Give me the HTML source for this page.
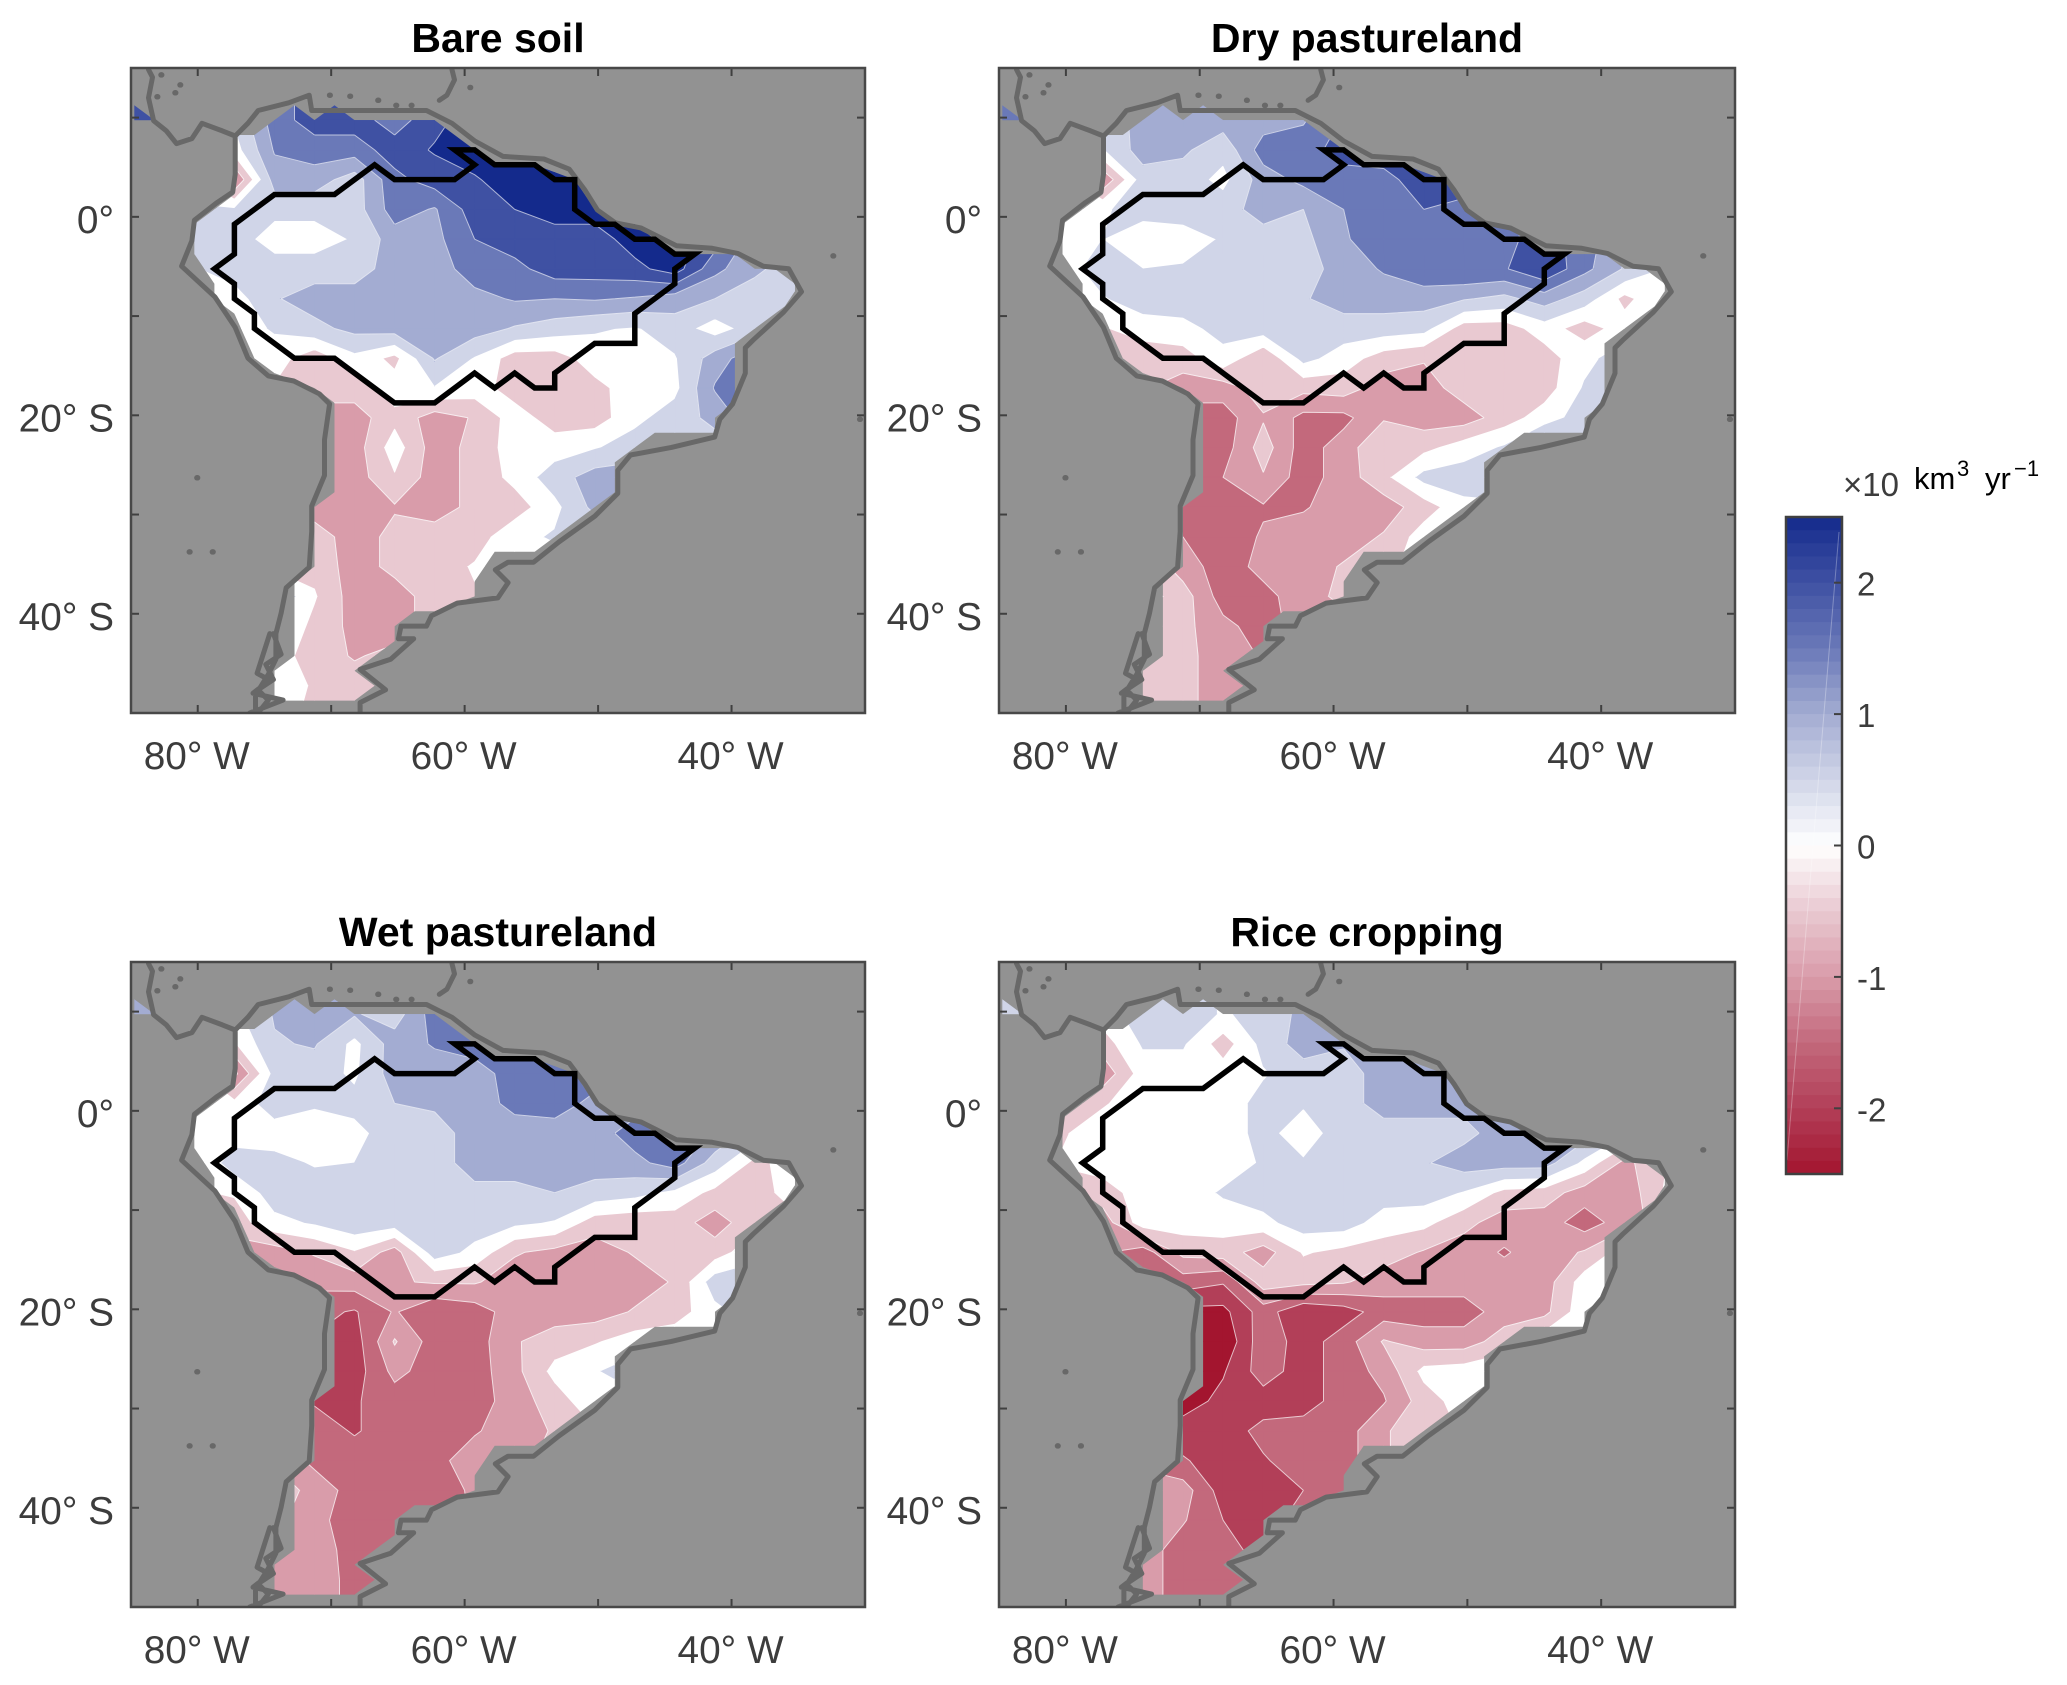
<!DOCTYPE html>
<html lang="en">
<head>
<meta charset="utf-8">
<title>South America land use contour maps</title>
<style>
html,body{margin:0;padding:0;background:#fff}
svg{display:block;font-family:"Liberation Sans",Arial,sans-serif}
</style>
</head>
<body>
<svg id="figure" width="2067" height="1685" viewBox="0 0 2067 1685" xmlns="http://www.w3.org/2000/svg"></svg>
<script>
const gridLons = [-86.25,-83.25,-80.25,-77.25,-74.25,-71.25,-68.25,-65.25,-62.25,-59.25,-56.25,-53.25,-50.25,-47.25,-44.25,-41.25,-38.25,-35.25,-32.25];
const gridLats = [12.75,9.75,6.75,3.75,0.75,-2.25,-5.25,-8.25,-11.25,-14.25,-17.25,-20.25,-23.25,-26.25,-29.25,-32.25,-35.25,-38.25,-41.25,-44.25,-47.25,-50.25];

const bareSoilValues = [
[2,2,.5,.5,1.5,2,2,1.5,2,2.5,2.5,2.5,2.5,2.5,2.5,2,1,.5,.5],
[2,2,.3,.3,1.5,2,2,1.5,2.1,2.5,2.5,2.5,2.5,2.5,2.5,2,1,.5,.5],
[.5,.3,0,0,1.3,1.5,1.5,2,2.3,2.5,2.5,2.5,2.5,2.5,2.5,2,1,.5,.5],
[0,0,0,-1.3,1,1,.5,1.6,2,2.2,2.5,2.5,2.5,2.5,2.5,2,1,.5,.5],
[.3,.3,.3,.3,.4,.4,.5,1.5,1.2,2,2.25,2.5,2.5,2.5,2.5,2,1,.5,.5],
[.5,.5,.5,.5,0,0,.3,1,1.1,1.75,2,2,2,2.5,2.5,2,1,.5,.5],
[.2,.2,.2,.5,.5,.5,.5,1,1,1.5,1.6,2,2,2.1,2.5,1.4,.85,.5,.5],
[0,0,0,0,.7,1,1,1,1,1.1,1.3,1.25,1.3,1.2,1,.75,.5,.7,.7],
[0,0,0,0,.3,.6,.9,1,1,1,.7,.5,.3,.2,.5,0,.5,.5,.5],
[0,0,0,0,0,-.6,.1,-.4,.8,.2,-.5,-.5,0,0,.2,1,1.6,.5,.5],
[0,0,0,-.3,-.3,-.5,-.5,0,.2,0,-.5,-.5,-.4,0,.1,1.3,1.7,.5,.5],
[-1,-1,-1,-1,-1,-1,-1,-.4,-1,-.7,0,-.5,-.5,.1,.5,.9,1.6,.5,.5],
[-1,-1,-1,-1,-1,-1,-1,0,-1,-.6,0,0,.2,.5,.5,.5,.5,.5,.5],
[-1,-1,-1,-1,-1,-1,-1,-.3,-1,-.6,-.1,.5,1,1,1,1,1,1,1],
[-1,-1,-1,-1,-1,-1,-1,-.8,-1,-.6,-.5,.1,.9,.9,.9,.9,.9,.9,.9],
[-.5,-.5,-.5,-.5,-.5,-.5,-1,-.6,-.5,-.5,.1,.3,.3,.3,.3,.3,.3,.3,.3],
[-.4,-.4,-.4,-.4,-.4,-.4,-1,-.6,-.5,-.2,0,0,0,0,0,0,0,0,0],
[.7,.7,.7,.7,.7,-.2,-1,-1,-.5,-.3,0,0,0,0,0,0,0,0,0],
[.3,.3,.3,.3,.3,-.4,-.9,-1,-.5,-.5,0,0,0,0,0,0,0,0,0],
[0,0,0,0,0,-.5,-.8,-.6,-.5,-.5,0,0,0,0,0,0,0,0,0],
[0,0,0,0,0,-.3,-.5,-.5,-.5,-.5,0,0,0,0,0,0,0,0,0],
[0,0,0,0,0,-.4,-.5,-.5,-.5,-.5,0,0,0,0,0,0,0,0,0]
];

const dryPasturelandValues = [
[1.5,1.5,.5,.3,1,1,1,1,1.2,1.8,2,2,2,2,2,1.5,1,.5,.5],
[1.5,1.5,.3,.3,1,1.1,1,1,1.2,1.8,2,2,2,2,2,1.5,1,.5,.5],
[.5,.3,.2,.2,1,.85,.4,1.5,1.5,2,2,2,2,2,2,1.5,1,.5,.5],
[0,0,0,-1.2,.5,.5,.1,1,1.4,1.5,1.6,2,2,2,2,1.5,1,.5,.5],
[.1,.1,.1,.2,.4,.5,.5,1,.75,1.25,1.5,1.75,1.6,1.6,2,1.5,1,.5,.5],
[0,0,0,.25,0,0,.3,.5,.6,1.2,1.5,1.5,1.5,1.6,2,1.5,.8,.4,.4],
[0,0,0,.5,.25,.3,.5,.5,.5,1,1.3,1.6,1.75,1.7,2.2,1.4,.7,.2,.2],
[0,0,0,.2,.5,.5,.5,.5,.7,1,1,1,.8,.6,1,.5,-.4,.2,.2],
[-.3,-.3,-.3,-.3,0,.1,.4,.5,.5,.5,.5,.4,-.5,-.5,0,-.5,0,.3,.3],
[-.3,-.3,-.3,-.3,-.6,-.5,.1,-.7,.4,0,-.5,-.7,-.5,-.5,-.5,.1,.5,.5,.5],
[-.7,-.7,-.7,-.7,-.7,-1,-1,-.5,-.6,-.5,-1,-1,-.5,-.5,-.5,.3,1,1,1],
[-1.5,-1.5,-1.5,-1.5,-1.5,-1.5,-1.5,-.8,-1.4,-1.4,-.8,-1,-1,-.5,0,.5,.5,.5,.5],
[-1.3,-1.3,-1.3,-1.3,-1.3,-1.3,-1.5,-.5,-1.5,-1,-.3,-.4,0,.3,1,.5,.5,.5,.5],
[-1.3,-1.3,-1.3,-1.3,-1.3,-1.3,-1.25,-.8,-1.5,-1,-.4,.4,.5,.7,.7,.7,.7,.7,.7],
[-1.5,-1.5,-1.5,-1.5,-1.5,-1.5,-1.5,-1.3,-1.3,-1,-1,-.5,.1,.1,.1,.1,.1,.1,.1],
[-.8,-.8,-.8,-.8,-.8,-1.25,-1.5,-1.2,-1,-1,-.7,0,0,0,0,0,0,0,0],
[-.3,-.3,-.3,-.3,-.3,-1,-1.5,-1.1,-1,-.7,-.4,0,0,0,0,0,0,0,0],
[0,0,0,0,0,-.5,-1.5,-1.4,-1,-.6,-.4,0,0,0,0,0,0,0,0],
[-.3,-.3,-.3,-.3,-.3,-.6,-1.1,-1.5,-1,-1,-.5,0,0,0,0,0,0,0,0],
[-.5,-.5,-.5,-.5,-.5,-.6,-1,-1.3,-1,-1,-.5,0,0,0,0,0,0,0,0],
[-.5,-.5,-.5,-.5,-.5,-.6,-1,-1,-1,-1,-.5,0,0,0,0,0,0,0,0],
[-.5,-.5,-.5,-.5,-.5,-.6,-1,-1,-1,-1,-.5,0,0,0,0,0,0,0,0]
];

const wetPasturelandValues = [
[1,1,.3,.1,.8,1,.8,.5,1.5,1.5,1.5,1.5,1.5,1.5,1.5,1,.5,.5,.5],
[1,1,.2,.1,.8,1,.8,.5,1.5,1.5,1.5,1.5,1.5,1.5,1.5,1,.5,.5,.5],
[.3,.1,0,-.3,.7,.8,.1,1,1.3,1.5,1.5,1.5,1.5,1.5,1.5,1,.5,.5,.5],
[0,0,0,-1.4,.4,.5,.15,1,1,1,1.5,1.6,1.5,1.5,1.5,1,.5,.5,.5],
[-.3,-.3,-.3,-.1,.5,.3,.4,.75,.85,1,1.4,1.5,1.1,1,1.2,1,.5,.5,.5],
[-.1,-.1,-.1,0,0,0,.1,.5,.5,1,1,1,1,1.5,1.5,1.2,.5,.3,.3],
[-.3,-.3,-.3,.5,.4,.2,.25,.5,.5,1,1,1,1,1.1,1.5,.5,-.4,0,0],
[-.3,-.3,-.3,-.2,.5,.5,.5,.5,.5,.6,.6,.75,.55,.4,.1,-.4,-.5,0,0],
[-.5,-.5,-.5,-.5,.1,.3,.6,.5,.5,.5,.35,.2,-.5,-.6,-.5,-1,-.4,-.4,-.4],
[-1,-1,-1,-1,-1,-.7,-.3,-1,.5,.1,-.7,-.9,-1,-.7,-.7,-.5,.1,.1,.1],
[-1.1,-1.1,-1.1,-1.1,-1.1,-1.1,-1,-.8,-.7,-.7,-1,-1,-1,-1,-.7,.5,.5,.5,.5],
[-1.6,-1.6,-1.6,-1.6,-1.6,-1.6,-1.8,-1.2,-1.7,-1.5,-1,-1,-1,-.7,-.5,.1,.5,.5,.5],
[-1.8,-1.8,-1.8,-1.8,-1.8,-1.8,-2,-.7,-1.5,-1.5,-.8,-.5,-.3,0,.1,.1,.1,.1,.1],
[-2,-2,-2,-2,-2,-2,-2,-1.1,-1.5,-1.5,-.9,-.1,.2,.5,.5,.5,.5,.5,.5],
[-1.5,-1.5,-1.5,-1.5,-1.5,-1.8,-1.8,-1.5,-1.5,-1.5,-1,-.5,.1,.1,.1,.1,.1,.1,.1],
[-1.5,-1.5,-1.5,-1.5,-1.5,-1.5,-1.8,-1.5,-1.5,-1.3,-1,-.7,-.3,0,0,0,0,0,0],
[-.8,-.8,-.8,-.8,-.8,-1.4,-1.5,-1.5,-1.4,-1,-1,-.5,-.3,0,0,0,0,0,0],
[-.5,-.5,-.5,-.5,-.5,-.9,-1.5,-1.5,-1.4,-1.2,-1,-.7,0,0,0,0,0,0,0],
[-.6,-.6,-.6,-.6,-.6,-1.1,-1.5,-1.5,-1.5,-1.2,-1,0,0,0,0,0,0,0,0],
[-1,-1,-1,-1,-1,-1,-1.45,-1.5,-1.5,-1,-1,0,0,0,0,0,0,0,0],
[-1,-1,-1,-1,-1,-1,-1.4,-1.5,-1.5,-1,-1,0,0,0,0,0,0,0,0],
[-1,-1,-1,-1,-1,-1,-1.4,-1.5,-1.5,-1,-1,0,0,0,0,0,0,0,0]
];

const riceCroppingValues = [
[.5,.5,.2,0,.5,.5,.2,.4,.9,1,1,1,1,1,1,.5,.3,.3,.3],
[.5,.5,.2,0,.5,.5,.2,.4,.9,1,1,1,1,1,1,.5,.3,.3,.3],
[.3,0,0,-.5,.3,.3,-.5,.4,1,.8,1,1,1,1,1,.5,.3,.3,.3],
[0,0,0,-1.1,0,0,0,.2,.5,.5,1,1,1,1,1,.5,.3,.3,.3],
[-.4,-.4,-.4,-.3,0,0,0,.4,.3,.5,1,1,.9,1,1,.5,.3,.3,.3],
[-.3,-.3,-.3,0,0,0,0,.4,0,.5,.5,.5,.6,1,1,1,.3,0,0],
[-.2,-.2,-.2,0,0,0,0,.3,.3,.5,.5,.7,1,1,1,.1,-.9,-.3,-.3],
[-.5,-.5,-.5,-.5,0,0,.3,.5,.5,.5,.5,.5,.2,-.4,-.5,-1,-1.1,-.2,-.2],
[-1,-1,-1,-1,0,0,0,.1,.5,.5,0,-.1,-.6,-1,-1,-1.5,-1,-.5,-.5],
[-1.2,-1.2,-1.2,-1.2,-1.5,-.6,-.5,-1,-.2,-.4,-.5,-.8,-1,-1.3,-1,-.7,0,0,0],
[-1.5,-1.5,-1.5,-1.5,-1.5,-1.5,-1.7,-.5,-.6,-.7,-1,-1,-1,-1,-1,0,.1,.1,.1],
[-2,-2,-2,-2,-2,-2.4,-2.4,-1.5,-2.2,-2,-1.5,-1.5,-1.5,-1,-.9,.1,.1,.1,.1],
[-2.2,-2.2,-2.2,-2.2,-2.2,-2.5,-2.7,-1.4,-2,-1.5,-.7,-1,-1,-.5,.1,.1,.1,.1,.1],
[-2.3,-2.3,-2.3,-2.3,-2.3,-2.6,-2.3,-1.5,-2,-1.5,-1.1,-.1,0,.1,.1,.1,.1,.1,.1],
[-2.5,-2.5,-2.5,-2.5,-2.5,-2.5,-2.1,-2,-2,-1.5,-1.3,-.5,0,0,0,0,0,0,0],
[-2,-2,-2,-2,-2,-2,-2,-1.6,-1.5,-1.5,-.8,-.5,-.2,0,0,0,0,0,0],
[-1.5,-1.5,-1.5,-1.5,-1.5,-1.7,-2,-1.8,-1.5,-1.5,-.8,-.5,0,0,0,0,0,0,0],
[-.7,-.7,-.7,-.7,-.7,-1,-2,-2,-1.75,-1.5,-1,0,0,0,0,0,0,0,0],
[-.7,-.7,-.7,-.7,-.7,-1.2,-1.75,-2,-1.5,-1.5,-1,0,0,0,0,0,0,0,0],
[-1,-1,-1,-1,-1,-1.5,-1.6,-1.9,-1.5,-1.5,-1,0,0,0,0,0,0,0,0],
[-1,-1,-1,-1,-1,-1.5,-1.5,-1.5,-1.5,-1.5,-1,0,0,0,0,0,0,0,0],
[-1,-1,-1,-1,-1,-1.5,-1.5,-1.5,-1.5,-1.5,-1,0,0,0,0,0,0,0,0]
];

const panelTitles = ["Bare soil","Dry pastureland","Wet pastureland","Rice cropping"];
const panelSlugs = ["bare-soil","dry-pastureland","wet-pastureland","rice-cropping"];
const panelValues = [bareSoilValues,dryPasturelandValues,wetPasturelandValues,riceCroppingValues];

const contourLevels = [-2.25,-1.75,-1.25,-.75,-.25,.25,.75,1.25,1.75,2.25];
const bandColors = ["#a3152f","#b23f58","#c3697c","#d99caa","#e9c9d1","#ffffff","#d0d5e8","#a3acd2","#6a79b8","#3f51a3","#142a8c"];
const colormapValues = [-2.5,-2,-1.5,-1,-.5,0,.5,1,1.5,2,2.5];
const colormapColors = ["#a3152f","#b23f58","#c3697c","#d99caa","#e9c9d1","#ffffff","#d0d5e8","#a3acd2","#6a79b8","#3f51a3","#142a8c"];

const landMask = [[-77.25,8.25],[-75.75,8.25],[-72.75,11.25],[-71.25,9.75],[-69.75,11.25],[-68.25,9.75],[-62.25,9.75],[-59.25,6.75],[-57.75,5.25],[-54.75,5.25],[-51.75,3.75],[-50.25,.75],[-48.75,-.75],[-47.25,-.75],[-45.75,-2.25],[-44.25,-3.75],[-39.75,-3.75],[-38.25,-5.25],[-36.75,-5.25],[-35.25,-6.75],[-35.25,-7.5],[-36,-9],[-39.75,-12.75],[-39.75,-18.75],[-41.25,-20.25],[-41.25,-21.75],[-45.75,-21.75],[-48.75,-24.75],[-48.75,-27.75],[-51.75,-30.75],[-54.75,-33.75],[-57.75,-33.75],[-59.25,-36.75],[-59.25,-38.25],[-62.25,-39.75],[-63.75,-39.75],[-65.25,-41.25],[-65.25,-42.75],[-68.25,-45.75],[-66.75,-47.25],[-68.25,-48.75],[-74.25,-48.75],[-74.25,-45.75],[-72.75,-44.25],[-72.75,-36.75],[-71.25,-35.25],[-71.25,-29.25],[-69.75,-27.75],[-69.75,-18.75],[-71.25,-17.25],[-74.25,-15.75],[-75.75,-14.25],[-77.25,-9.75],[-78.75,-8.25],[-78.75,-6.75],[-80.25,-3.75],[-80.25,-.75],[-78.75,.75],[-77.25,2.25]];
const centralAmericaMask = [[-84.75,11.25],[-83.25,9.75],[-84.75,9.75]];

const basinOutline = [[-60.75,6.75],[-59.25,6.75],[-57.75,5.25],[-54.75,5.25],[-53.25,3.75],[-51.75,3.75],[-51.75,.75],[-50.25,-.75],[-48.75,-.75],[-47.25,-2.25],[-45.75,-2.25],[-44.25,-3.75],[-42.75,-3.75],[-44.25,-5.25],[-44.25,-6.75],[-47.25,-9.75],[-47.25,-12.75],[-50.25,-12.75],[-53.25,-15.75],[-53.25,-17.25],[-54.75,-17.25],[-56.25,-15.75],[-57.75,-17.25],[-59.25,-15.75],[-62.25,-18.75],[-65.25,-18.75],[-69.75,-14.25],[-72.75,-14.25],[-75.75,-11.25],[-75.75,-9.75],[-77.25,-8.25],[-77.25,-6.75],[-78.75,-5.25],[-77.25,-3.75],[-77.25,-.75],[-74.25,2.25],[-69.75,2.25],[-66.75,5.25],[-65.25,3.75],[-60.75,3.75],[-59.25,5.25],[-60.75,6.75]];

const coastMain = [[-83.69,14.85],[-83.39,14.06],[-83.69,12],[-83.31,9.69],[-82.35,8.66],[-81.59,7.38],[-80.44,7.89],[-79.68,9.43],[-78.15,8.66],[-77.19,8.15],[-76.24,9.43],[-75.47,10.72],[-73.18,11.49],[-71.65,12.26],[-71.46,10.72],[-68.21,10.72],[-65.53,10.72],[-62.86,10.72],[-60.95,9.43],[-59.23,7.63],[-57.12,6.09],[-54.06,5.83],[-52.16,4.8],[-51.01,2.75],[-50.05,.69],[-48.71,-.6],[-46.8,-1.11],[-44.13,-2.91],[-41.45,-3.17],[-39.54,-3.68],[-37.63,-4.97],[-35.72,-5.23],[-34.76,-7.54],[-36.1,-9.6],[-38.39,-12.43],[-38.97,-13.2],[-38.97,-15.77],[-39.92,-18.86],[-40.88,-20.4],[-41.26,-22.2],[-44.51,-23.23],[-47.57,-24],[-48.52,-25.54],[-48.52,-27.86],[-50.25,-30.17],[-52.92,-32.75],[-54.83,-34.8],[-56.74,-34.8],[-57.7,-35.57],[-56.74,-36.86],[-57.51,-38.4],[-60.56,-38.92],[-62.48,-40.2],[-62.86,-41.24],[-64.77,-41.24],[-64.96,-42.52],[-63.82,-42.52],[-65.54,-44.58],[-67.83,-45.61],[-65.92,-47.66],[-67.83,-48.95],[-67.83,-50.1]];
const coastWest = [[-75.67,-50.1],[-75.67,-48.2],[-74.71,-46.12],[-74.14,-44.58],[-74.14,-42],[-73.75,-39.95],[-73.37,-37.38],[-71.65,-35.32],[-71.46,-31.72],[-71.46,-29.15],[-70.5,-26.06],[-70.5,-22.46],[-70.12,-18.86],[-70.89,-17.83],[-72.8,-16.54],[-74.71,-16.03],[-76.24,-14.23],[-77.19,-11.14],[-78.72,-8.06],[-81.21,-4.97],[-80.44,-2.4],[-80.25,-.34],[-78.53,1.46],[-77.38,2.49],[-77.19,4.29],[-77.19,8.15]];
const coastChile = [[-74.33,-42],[-73.75,-44.08],[-74.9,-45.1],[-74.33,-46.63],[-75.48,-47.66],[-74.71,-48.7],[-75.48,-50]];
const coastChileOuter = [[-74.6,-42],[-75.55,-46],[-74.6,-46.7],[-75.86,-48],[-73.6,-48.7],[-76.1,-50]];
const coastCaribbean = [[-60.95,14.83],[-60.76,13.8],[-61.33,12.26],[-61.9,11.75]];
const coastIslands = [[-82.75,14.3],[-81.33,13.3],[-81.7,12.5],[-83.05,12.1],[-70.12,12.26],[-68.6,12.16],[-66.5,11.75],[-65.15,11.23],[-64,11.23],[-59.6,13.03],[-80.06,-26.3],[-80.63,-33.77],[-78.9,-33.77],[-32.4,-3.94],[-30.4,-20.4]];

const xTickLons = [-80,-70,-60,-50,-40];
const yTickLats = [10,0,-10,-20,-30,-40];
const xLabelLons = [-80,-60,-40];
const xLabelTexts = ["80° W","60° W","40° W"];
const yLabelLats = [0,-20,-40];
const yLabelTexts = ["0°","20° S","40° S"];
const colorbarTicks = [2,1,0,-1,-2];
const colorbarLabels = ["2","1","0","-1","-2"];

const SVGNS = "http://www.w3.org/2000/svg";
const fig = document.getElementById("figure");
const lonMin = -85, lonMax = -30, latMax = 15, latMin = -50;
const frames = [
  {left:131,top:68,right:865,bottom:713},
  {left:999,top:68,right:1735,bottom:713},
  {left:131,top:962,right:865,bottom:1607},
  {left:999,top:962,right:1735,bottom:1607}
];
function make(tag, attrs, parent){
  const el = document.createElementNS(SVGNS, tag);
  for (const k in attrs) el.setAttribute(k, attrs[k]);
  (parent || fig).appendChild(el);
  return el;
}
function xAxis(f, lon){ return f.left + (lon - lonMin) / (lonMax - lonMin) * (f.right - f.left); }
function yAxis(f, lat){ return f.top + (latMax - lat) / (latMax - latMin) * (f.bottom - f.top); }
function fmt(n){ return n.toFixed(1); }
function pathOf(f, pts, close){
  let d = "";
  pts.forEach((p, i) => { d += (i ? "L" : "M") + fmt(xAxis(f, p[0])) + " " + fmt(yAxis(f, p[1])); });
  return d + (close ? "Z" : "");
}
function clipPolygon(poly, level, keepAbove){
  const out = [];
  for (let i = 0; i < poly.length; i++){
    const a = poly[i], b = poly[(i + 1) % poly.length];
    const ain = keepAbove ? a[2] >= level : a[2] <= level;
    const bin = keepAbove ? b[2] >= level : b[2] <= level;
    if (ain) out.push(a);
    if (ain !== bin){
      const t = (level - a[2]) / (b[2] - a[2]);
      out.push([a[0] + t * (b[0] - a[0]), a[1] + t * (b[1] - a[1]), level]);
    }
  }
  return out;
}
function cellCorners(values, r, c){
  return [
    [gridLons[c], gridLats[r], values[r][c]],
    [gridLons[c + 1], gridLats[r], values[r][c + 1]],
    [gridLons[c + 1], gridLats[r + 1], values[r + 1][c + 1]],
    [gridLons[c], gridLats[r + 1], values[r + 1][c]]
  ];
}
function bandPath(f, values, band){
  let d = "";
  const lo = band === 0 ? -Infinity : contourLevels[band - 1];
  const hi = band === contourLevels.length ? Infinity : contourLevels[band];
  for (let r = 0; r < gridLats.length - 1; r++){
    for (let c = 0; c < gridLons.length - 1; c++){
      let poly = cellCorners(values, r, c);
      if (lo !== -Infinity) poly = clipPolygon(poly, lo, true);
      if (poly.length && hi !== Infinity) poly = clipPolygon(poly, hi, false);
      if (poly.length > 2) d += pathOf(f, poly, true);
    }
  }
  return d;
}
function contourPath(f, values, level){
  let d = "";
  for (let r = 0; r < gridLats.length - 1; r++){
    for (let c = 0; c < gridLons.length - 1; c++){
      const q = cellCorners(values, r, c);
      const hits = [];
      for (let i = 0; i < 4; i++){
        const a = q[i], b = q[(i + 1) % 4];
        if ((a[2] < level) !== (b[2] < level)){
          const t = (level - a[2]) / (b[2] - a[2]);
          hits.push([a[0] + t * (b[0] - a[0]), a[1] + t * (b[1] - a[1])]);
        }
      }
      for (let i = 0; i + 1 < hits.length; i += 2) d += pathOf(f, [hits[i], hits[i + 1]], false);
    }
  }
  return d;
}

panelTitles.forEach((title, p) => {
  const f = frames[p];
  const values = panelValues[p];
  const slug = panelSlugs[p];
  const w = f.right - f.left, h = f.bottom - f.top;
  const group = make("g", {});
  
  

  const defs = make("defs", {}, group);
  const frameClip = make("clipPath", {id: "frame-clip-" + p}, defs);
  make("rect", {x: f.left, y: f.top, width: w, height: h}, frameClip);
  const landClip = make("clipPath", {id: "land-clip-" + p}, defs);
  make("path", {d: pathOf(f, landMask, true)}, landClip);
  make("path", {d: pathOf(f, centralAmericaMask, true)}, landClip);

  const ocean = make("rect", {x: f.left, y: f.top, width: w, height: h, fill: "#929292"}, group);
  
  

  const field = make("g", {"clip-path": "url(#land-clip-" + p + ")"}, group);
  
  
  bandColors.forEach((color, band) => {
    const d = bandPath(f, values, band);
    if (!d) return;
    const bandEl = make("path", {d: d, fill: color, stroke: color, "stroke-width": 0.8}, field);
    
    
  });
  contourLevels.forEach((level) => {
    if (Math.abs(level) < 0.5) return;
    const d = contourPath(f, values, level);
    if (!d) return;
    const lineEl = make("path", {d: d, fill: "none", stroke: "#fff", "stroke-opacity": 0.65, "stroke-width": 1}, field);
    
    
  });

  const coast = make("g", {"clip-path": "url(#frame-clip-" + p + ")", fill: "none", stroke: "#686868", "stroke-width": 5, "stroke-linejoin": "round", "stroke-linecap": "round"}, group);
  
  
  make("path", {d: pathOf(f, coastMain) + pathOf(f, coastWest) + pathOf(f, coastChile) + pathOf(f, coastChileOuter) + pathOf(f, coastCaribbean)}, coast);
  coastIslands.forEach((pt) => {
    make("path", {d: pathOf(f, [pt, [pt[0] + 0.05, pt[1]]]), "stroke-width": 5.5}, coast);
  });

  const basin = make("path", {d: pathOf(f, basinOutline, true), fill: "none", stroke: "#000", "stroke-width": 5.5, "stroke-linejoin": "miter"}, group);
  
  

  const ticks = make("g", {stroke: "#404040", "stroke-width": 2, fill: "none"}, group);
  
  
  xTickLons.forEach((lon) => {
    const x = xAxis(f, lon);
    make("line", {x1: x, x2: x, y1: f.bottom, y2: f.bottom - 8}, ticks);
    make("line", {x1: x, x2: x, y1: f.top, y2: f.top + 8}, ticks);
  });
  yTickLats.forEach((lat) => {
    const y = yAxis(f, lat);
    make("line", {x1: f.left, x2: f.left + 8, y1: y, y2: y}, ticks);
    make("line", {x1: f.right, x2: f.right - 8, y1: y, y2: y}, ticks);
  });

  const frameEl = make("rect", {x: f.left, y: f.top, width: w, height: h, fill: "none", stroke: "#484848", "stroke-width": 2.5}, group);
  
  

  const titleEl = make("text", {x: (f.left + f.right) / 2, y: f.top - 16, "text-anchor": "middle", "font-size": 41, "font-weight": "bold", fill: "#000"}, group);
  titleEl.textContent = title;
  
  

  xLabelLons.forEach((lon, i) => {
    const t = make("text", {x: xAxis(f, lon) - 1, y: f.bottom + 56, "text-anchor": "middle", "font-size": 38.8, fill: "#3c3c3c"}, group);
    t.textContent = xLabelTexts[i];
    
    
  });
  yLabelLats.forEach((lat, i) => {
    const t = make("text", {x: f.left - 17, y: yAxis(f, lat) + 16, "text-anchor": "end", "font-size": 38.8, fill: "#3c3c3c"}, group);
    t.textContent = yLabelTexts[i];
    
    
  });
});

/* colorbar */
const cb = {left: 1786, right: 1842, top: 517, bottom: 1174};
const cbMax = 2.5, cbMin = -2.5;
function cbY(v){ return cb.top + (cbMax - v) / (cbMax - cbMin) * (cb.bottom - cb.top); }
function cmap(v){
  let i = 0;
  while (i < colormapValues.length - 2 && v > colormapValues[i + 1]) i++;
  const t = (v - colormapValues[i]) / (colormapValues[i + 1] - colormapValues[i]);
  const a = colormapColors[i], b = colormapColors[i + 1];
  const ch = (s, k) => parseInt(s.substr(1 + 2 * k, 2), 16);
  return "rgb(" + [0, 1, 2].map((k) => Math.round(ch(a, k) + t * (ch(b, k) - ch(a, k)))).join(",") + ")";
}
const colorbar = make("g", {});


const cbStep = 0.1;
for (let i = 0; i < 50; i++){
  const top = cbMax - i * cbStep;
  const strip = make("rect", {x: cb.left, width: cb.right - cb.left, y: cbY(top), height: cbY(top - cbStep) - cbY(top) + 0.6, fill: cmap(top - cbStep / 2)}, colorbar);
  
  
}
const cbDiagonal = make("line", {x1: 1839, y1: 532, x2: 1787, y2: 1160, stroke: "#fff", "stroke-opacity": 0.3, "stroke-width": 1}, colorbar);


const cbFrame = make("rect", {x: cb.left, y: cb.top, width: cb.right - cb.left, height: cb.bottom - cb.top, fill: "none", stroke: "#404040", "stroke-width": 2.5}, colorbar);


colorbarTicks.forEach((v, i) => {
  const y = cbY(v);
  const tick = make("line", {x1: cb.right - 8, x2: cb.right, y1: y, y2: y, stroke: "#404040", "stroke-width": 2}, colorbar);
  
  
  const label = make("text", {x: 1857, y: y + 13, "font-size": 33, fill: "#3c3c3c"}, colorbar);
  label.textContent = colorbarLabels[i];
  
  
});
const multiplier = make("text", {x: 1843, y: 496, "font-size": 33, fill: "#3c3c3c"}, colorbar);
multiplier.textContent = "×10";


const unitGroup = make("text", {y: 489, "font-size": 31, fill: "#000"}, colorbar);


const unitParts = [["km",1914,489,31],["3",1957,476,22],["yr",1985,489,31],["−1",2014,476,22]];
unitParts.forEach((part) => {
  const ts = make("tspan", {x: part[1], y: part[2], "font-size": part[3]}, unitGroup);
  ts.textContent = part[0];
});
</script>
</body>
</html>
